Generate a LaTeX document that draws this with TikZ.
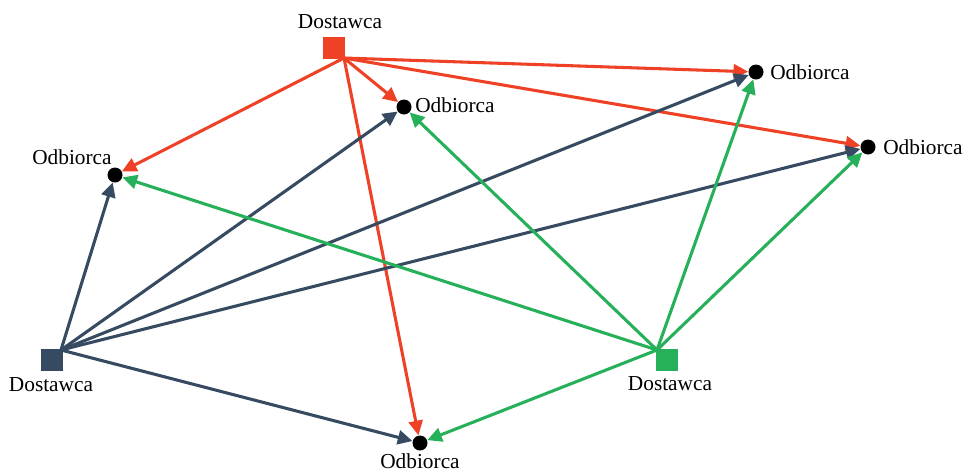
\documentclass[tikz,border=0pt]{standalone}
\usepackage{fontspec}
\setmainfont{Liberation Serif}
\usetikzlibrary{arrows.meta}
\definecolor{cred}{HTML}{EE4125}
\definecolor{cblue}{HTML}{364B62}
\definecolor{cgreen}{HTML}{27B05A}
\tikzset{
  odb/.style={circle,fill=black,inner sep=0pt,minimum size=11.25pt},
  dost/.style={rectangle,inner sep=0pt,minimum size=16.5pt},
  lbl/.style={inner sep=0pt,font=\fontsize{16}{19}\selectfont},
  link/.style={line width=2.3pt,-{Triangle[length=11pt,width=10.5pt]}},
}
\begin{document}
\begin{tikzpicture}[x=0.75pt,y=-0.75pt]
\useasboundingbox (0,0) rectangle (968,472);
% receivers
\node[odb] (o1) at (756,72) {};
\node[odb] (o2) at (868,147) {};
\node[odb] (o3) at (404,107) {};
\node[odb] (o4) at (115,175) {};
\node[odb] (o5) at (420,443) {};
% supplier origins
\coordinate (r) at (344,58);
\coordinate (b) at (61,350);
\coordinate (g) at (657,350);
% squares
\node[dost,fill=cred] (sr) at (334,48) {};
\node[dost,fill=cblue] (sb) at (51.5,359.5) {};
\node[dost,fill=cgreen] (sg) at (666.5,360) {};
% edges
\foreach \t in {o1,o2,o3,o4,o5} \draw[link,cred] (r) -- (\t);
\foreach \t in {o1,o2,o3,o4,o5} \draw[link,cblue] (b) -- (\t);
\foreach \t in {o1,o2,o3,o4,o5} \draw[link,cgreen] (g) -- (\t);
% labels
\node[lbl,anchor=west] (l1) at (770,72) {Odbiorca};
\node[lbl,anchor=west] (l2) at (883,147) {Odbiorca};
\node[lbl,anchor=west] (l3) at (415,105) {Odbiorca};
\node[lbl] (l4) at (72,157) {Odbiorca};
\node[lbl,anchor=base] (l5) at (420,468) {Odbiorca};
\node[lbl] (d1) at (340,22) {Dostawca};
\node[lbl] (d2) at (51,385) {Dostawca};
\node[lbl] (d3) at (670,384) {Dostawca};
\end{tikzpicture}
\end{document}
